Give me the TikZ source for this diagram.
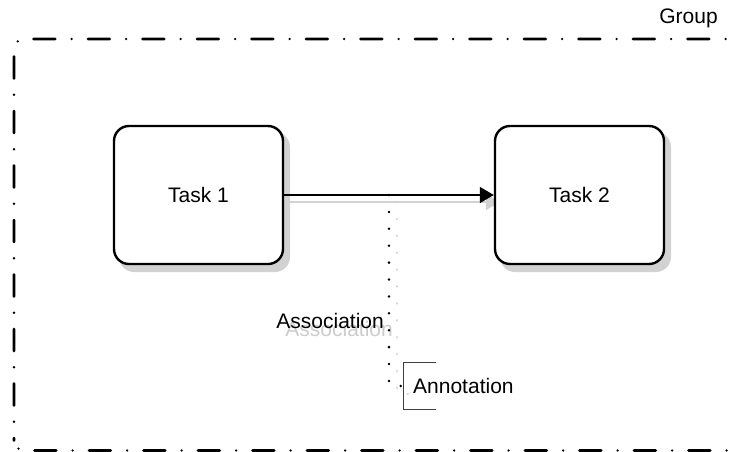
\documentclass[tikz,border=0pt]{standalone}
\usepackage{fontspec}
\setmainfont{Liberation Sans}
\usetikzlibrary{arrows.meta,calc}
\begin{document}
\begin{tikzpicture}[x=1pt,y=-1pt,
  lbl/.style={font=\fontsize{21}{24}\selectfont, inner sep=0pt},
  taskbox/.style={draw=black, line width=2.4pt, fill=white, rounded corners=15pt, minimum width=169pt, minimum height=138pt, inner sep=0pt, font=\fontsize{21}{24}\selectfont},
  shadowbox/.style={fill=gray!35, rounded corners=15pt, minimum width=171pt, minimum height=140pt, inner sep=0pt},
  flow/.style={line width=1.4pt, -{Triangle[length=14pt,width=16pt]}},
  flowshadow/.style={draw=gray!35, line width=1.4pt, -{Triangle[length=14pt,width=16pt]}},
  assoc/.style={line width=2.8pt, line cap=round, dash pattern=on 0.01pt off 16.89pt},
  assocshadow/.style={assoc, draw=gray!35},
  groupline/.style={line width=2.6pt, line cap=round, rounded corners=10pt, dash pattern=on 22pt off 16.25pt on 0pt off 16.25pt, dash phase=19.5pt},
  bracket/.style={draw=black!75, line width=1pt}
]
\useasboundingbox (0,0) rectangle (734,451);
\clip (0,0) rectangle (734,451);

% group
\draw[groupline] (14,440.5) -- (14,39) -- (770,39) -- (770,450.5) -- (14,450.5) -- (14,440.5);
\node[lbl] (grp) at (688.5,18) {Group};

% shadows
\node[shadowbox] (t1s) at (204.5,202) {};
\node[shadowbox] (t2s) at (585.5,202) {};
\draw[flowshadow] (t1s.east) -- (t2s.west);
\coordinate (ams) at (397,202);
\coordinate (acs) at (397,394);
\coordinate (aes) at (411,394);
\draw[assocshadow] (ams) -- (acs) -- (aes);
\node[lbl, text=gray!40, anchor=east] (asls) at (393,329) {Association};

% tasks
\node[taskbox] (t1) at (198.5,195) {Task 1};
\node[taskbox] (t2) at (579.5,195) {Task 2};
\draw[flow] (t1.east) -- (t2.west);

% annotation
\node[lbl, anchor=west, minimum height=46pt, inner xsep=0pt, text depth=0pt] (ann) at (403,386) {\hspace{10pt}Annotation};
\draw[bracket] ([xshift=33pt]ann.north west) -- (ann.north west) -- (ann.south west) -- ([xshift=33pt]ann.south west);

% association
\coordinate (am) at ($(t1.east)!0.5!(t2.west)$);
\coordinate (ac) at (389,386);
\draw[assoc] (am) -- (ac) -- (ann.west);
\node[lbl, anchor=east] (asl) at (384,321) {Association};
\end{tikzpicture}
\end{document}
